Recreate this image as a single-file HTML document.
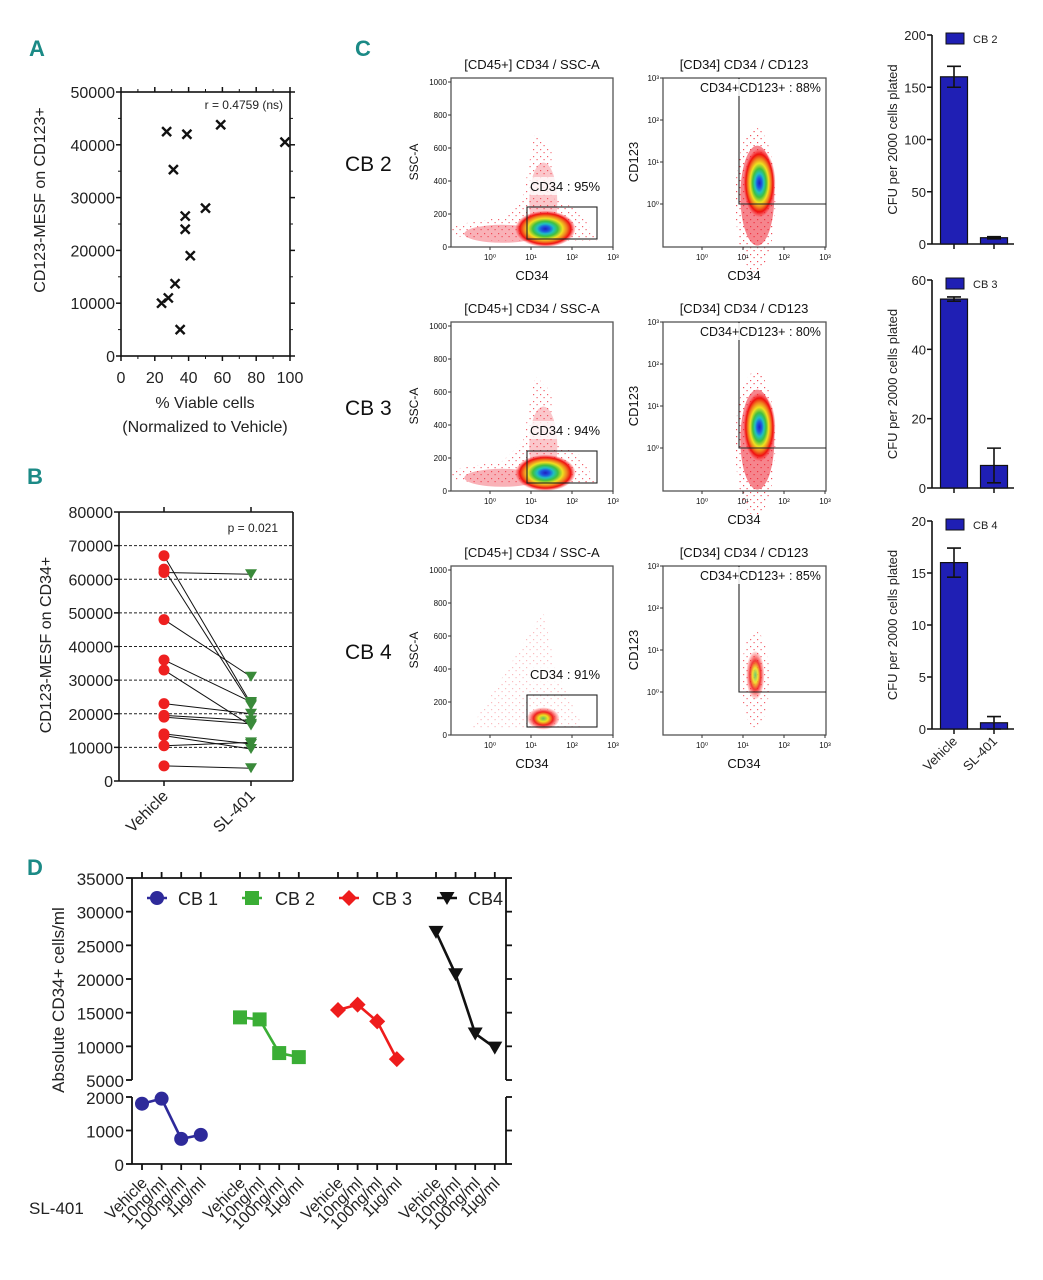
<!DOCTYPE html>
<html><head><meta charset="utf-8">
<style>
html,body{margin:0;padding:0;background:#fff;}
svg{display:block;font-family:"Liberation Sans",sans-serif;}
.lt{fill:#1b8a86;font-weight:bold;font-size:22px;font-family:"Liberation Sans Narrow","Liberation Sans",sans-serif;}
</style></head>
<body>
<svg id="fig" width="1043" height="1280" viewBox="0 0 1043 1280" xmlns="http://www.w3.org/2000/svg">
<defs>
<radialGradient id="dens" cx="50%" cy="50%" r="50%">
<stop offset="0" stop-color="#2020c0"/>
<stop offset="0.15" stop-color="#1e5ae0"/>
<stop offset="0.28" stop-color="#20c0c0"/>
<stop offset="0.42" stop-color="#40c040"/>
<stop offset="0.58" stop-color="#f0e020"/>
<stop offset="0.72" stop-color="#f08020"/>
<stop offset="0.85" stop-color="#f01010"/>
<stop offset="1" stop-color="#ff3030" stop-opacity="0.1"/>
</radialGradient>
<radialGradient id="dens2" cx="50%" cy="50%" r="50%">
<stop offset="0" stop-color="#60c060"/>
<stop offset="0.3" stop-color="#f0e020"/>
<stop offset="0.6" stop-color="#f02020"/>
<stop offset="1" stop-color="#ff3030" stop-opacity="0.1"/>
</radialGradient>
<pattern id="spk" width="7" height="7" patternUnits="userSpaceOnUse">
<rect x="1" y="2" width="1.2" height="1.2" fill="#ee2030"/>
<rect x="4.5" y="5" width="1.2" height="1.2" fill="#ee2030"/>
</pattern>
</defs>
<text class="lt" x="29" y="56">A</text>
<text class="lt" x="27" y="484">B</text>
<text class="lt" x="355" y="56">C</text>
<text class="lt" x="27" y="875">D</text>
<g id="pa"></g>
<g id="pb"></g>
<g id="pc"></g>
<g id="pbar"></g>
<g id="pd"></g>
</svg>
<script>
// ---------- Panel A data ----------
const aViable = [27, 39, 59, 97, 31, 50, 38, 38, 41, 32, 28, 24, 35];
const aMesf = [42500, 42000, 43800, 40500, 35300, 28000, 26500, 24000, 19000, 13700, 11000, 10000, 5000];
const aYTicks = [0, 10000, 20000, 30000, 40000, 50000];
const aXTicks = [0, 20, 40, 60, 80, 100];
// ---------- Panel B data ----------
const bVehicle = [67000, 63000, 62000, 48000, 36000, 33000, 23000, 19500, 19000, 14000, 13500, 10500, 4500];
const bSL401 = [23000, 22500, 61500, 31000, 23500, 16500, 20000, 18000, 17000, 11000, 9500, 11500, 3800];
const bYTicks = [0, 10000, 20000, 30000, 40000, 50000, 60000, 70000, 80000];
// ---------- Panel C bars ----------
const barGroups = ["CB 2", "CB 3", "CB 4"];
const barVehicle = [160, 54.5, 16];
const barSL = [6, 6.5, 0.6];
const barVehErr = [10, 0.6, 1.4];
const barSLErr = [1, 5, 0.6];
const barMax = [200, 60, 20];
const barTicks = [[0, 50, 100, 150, 200], [0, 20, 40, 60], [0, 5, 10, 15, 20]];
// ---------- Panel C flow gates ----------
const flowSamples = ["CB 2", "CB 3", "CB 4"];
const flowCD34Pct = ["95%", "94%", "91%"];
const flowCD123Pct = ["88%", "80%", "85%"];
// ---------- Panel D data ----------
const dSeries = ["CB 1", "CB 2", "CB 3", "CB4"];
const dDoses = ["Vehicle", "10ng/ml", "100ng/ml", "1\u00b5g/ml"];
const dCB1 = [1800, 1950, 750, 870];
const dCB2 = [14300, 14000, 9000, 8400];
const dCB3 = [15400, 16200, 13700, 8100];
const dCB4 = [27000, 20700, 11900, 9800];
const dUpperTicks = [5000, 10000, 15000, 20000, 25000, 30000, 35000];
const dLowerTicks = [0, 1000, 2000];

const NS = "http://www.w3.org/2000/svg";
function mk(parent, tag, attrs, text) {
  const e = document.createElementNS(NS, tag);
  for (const k in attrs) e.setAttribute(k, attrs[k]);
  if (text !== undefined) e.textContent = text;
  parent.appendChild(e);
  return e;
}
function line(p, x1, y1, x2, y2, st, w) { return mk(p, "line", {x1, y1, x2, y2, stroke: st || "#111", "stroke-width": w || 1.5}); }

// ================= Panel A =================
(function () {
  const g = document.getElementById("pa");
  const L = 121, R = 290, T = 92, B = 356;
  const sx = v => L + (v / 100) * (R - L);
  const sy = v => B - (v / 50000) * (B - T);
  const ax = mk(g, "rect", {x: L, y: T, width: R - L, height: B - T, fill: "none", stroke: "#111", "stroke-width": 1.6});
  
  
  aYTicks.forEach(v => {
    line(g, L - 5, sy(v), L, sy(v)); line(g, R, sy(v), R + 5, sy(v));
    const t = mk(g, "text", {x: L - 6, y: sy(v) + 6, "text-anchor": "end", "font-size": 16, fill: "#222"}, v);
    
    
  });
  for (let v = 5000; v < 50000; v += 10000) { line(g, L - 3, sy(v), L, sy(v), "#111", 1); line(g, R, sy(v), R + 3, sy(v), "#111", 1); }
  aXTicks.forEach(v => {
    line(g, sx(v), B, sx(v), B + 5); line(g, sx(v), T - 5, sx(v), T);
    const t = mk(g, "text", {x: sx(v), y: B + 27, "text-anchor": "middle", "font-size": 16, fill: "#222"}, v);
    
    
  });
  for (let v = 10; v < 100; v += 20) { line(g, sx(v), B, sx(v), B + 3, "#111", 1); line(g, sx(v), T - 3, sx(v), T, "#111", 1); }
  aViable.forEach((v, i) => {
    const x = sx(v), y = sy(aMesf[i]);
    const m = mk(g, "path", {d: `M${x-4.5},${y-4.5}L${x+4.5},${y+4.5}M${x-4.5},${y+4.5}L${x+4.5},${y-4.5}`, stroke: "#111", "stroke-width": 2.4});
    
    
  });
  let t = mk(g, "text", {x: 283, y: 109, "text-anchor": "end", "font-size": 12, fill: "#222"}, "r = 0.4759 (ns)");
   
  t = mk(g, "text", {x: 205, y: 408, "text-anchor": "middle", "font-size": 16, fill: "#222"}, "% Viable cells");
   
  t = mk(g, "text", {x: 205, y: 432, "text-anchor": "middle", "font-size": 16, fill: "#222"}, "(Normalized to Vehicle)");
   
  t = mk(g, "text", {x: 0, y: 0, "text-anchor": "middle", "font-size": 16, fill: "#222", transform: "translate(45,200) rotate(-90)"}, "CD123-MESF on CD123+");
   
})();

// ================= Panel B =================
(function () {
  const g = document.getElementById("pb");
  const L = 119, R = 293, T = 512, B = 781;
  const xV = 164, xS = 251;
  const sy = v => B - (v / 80000) * (B - T);
  bYTicks.forEach(v => {
    if (v > 0 && v < 80000 && v >= 10000) mk(g, "line", {x1: L, y1: sy(v), x2: R, y2: sy(v), stroke: "#222", "stroke-width": 1, "stroke-dasharray": "3,2"});
    line(g, L - 5, sy(v), L, sy(v));
    const t = mk(g, "text", {x: L - 6, y: sy(v) + 6, "text-anchor": "end", "font-size": 16, fill: "#222"}, v);
    
    
  });
  line(g, L, T, L, B, "#111", 1.6); line(g, L, B, R, B, "#111", 1.6); line(g, L, T, R, T, "#111", 1.6); line(g, R, T, R, B, "#111", 1.6);
  [xV, xS].forEach(x => { line(g, x, B, x, B + 5); line(g, x, T - 5, x, T); });
  bVehicle.forEach((v, i) => {
    const l = mk(g, "line", {x1: xV, y1: sy(v), x2: xS, y2: sy(bSL401[i]), stroke: "#111", "stroke-width": 1});
     
  });
  bVehicle.forEach(v => {
    const c = mk(g, "circle", {cx: xV, cy: sy(v), r: 5.5, fill: "#ee2020"});
     
  });
  bSL401.forEach(v => {
    const y = sy(v);
    const p = mk(g, "path", {d: `M${xS-6},${y-5}L${xS+6},${y-5}L${xS},${y+5}Z`, fill: "#3a8a3a"});
     
  });
  let t = mk(g, "text", {x: 278, y: 532, "text-anchor": "end", "font-size": 12, fill: "#222"}, "p = 0.021");
   
  [["Vehicle", xV], ["SL-401", xS]].forEach(([s, x]) => {
    const tt = mk(g, "text", {x: 0, y: 0, "text-anchor": "end", "font-size": 16, fill: "#222", transform: `translate(${x+5},${B+16}) rotate(-45)`}, s);
     
  });
  t = mk(g, "text", {x: 0, y: 0, "text-anchor": "middle", "font-size": 16, fill: "#222", transform: "translate(51,645) rotate(-90)"}, "CD123-MESF on CD34+");
   
})();

// ================= Panel C flow =================
(function () {
  const g = document.getElementById("pc");
  const sup = {0: "\u2070", 1: "\u00b9", 2: "\u00b2", 3: "\u00b3"};
  flowSamples.forEach((s, r) => {
    const off = r * 244;
    const T = 78 + off, B = 247 + off;
    const sg = mk(g, "g", {});
    
    
    let t = mk(sg, "text", {x: 345, y: 171 + off, "font-size": 21, fill: "#111"}, s);
     
    // --- plot 1 ---
    const L1 = 451, R1 = 613;
    t = mk(sg, "text", {x: 532, y: 69 + off, "text-anchor": "middle", "font-size": 13, fill: "#111"}, "[CD45+] CD34 / SSC-A");
     
    const syA = v => B - v / 1000 * (B - T - 4);
    const sxl = d => 490 + d * 41;
    if (r < 2) {
      mk(sg, "path", {d: `M${L1},${syA(70)}L${L1},${syA(130)}L${sxl(0.3)},${syA(180)}L${sxl(0.8)},${syA(300)}L${sxl(1.1)},${syA(700)}L${sxl(1.5)},${syA(600)}L${sxl(1.5)},${syA(300)}L${sxl(2.2)},${syA(220)}L${sxl(2.6)},${syA(40)}L${sxl(0)},${syA(40)}Z`, fill: "url(#spk)", opacity: 0.7});
      mk(sg, "ellipse", {cx: sxl(0.3), cy: syA(80), rx: 38, ry: 9, fill: "#ee2030", opacity: 0.35});
      mk(sg, "ellipse", {cx: sxl(1.3), cy: syA(270), rx: 14, ry: 40, fill: "#ee2030", opacity: 0.25});
      mk(sg, "ellipse", {cx: sxl(1.35), cy: syA(110), rx: 30, ry: 18, fill: "url(#dens)"});
    } else {
      mk(sg, "path", {d: `M${sxl(-0.5)},${syA(30)}L${sxl(1.3)},${syA(750)}L${sxl(1.6)},${syA(400)}L${sxl(2.3)},${syA(30)}Z`, fill: "url(#spk)", opacity: 0.3});
      mk(sg, "ellipse", {cx: sxl(1.3), cy: syA(100), rx: 16, ry: 11, fill: "url(#dens2)"});
    }
    const f1 = mk(sg, "rect", {x: L1, y: T, width: R1 - L1, height: B - T, fill: "none", stroke: "#555", "stroke-width": 1.3});
     
    [0, 200, 400, 600, 800, 1000].forEach(v => {
      line(sg, L1 - 3, syA(v), L1, syA(v), "#333", 1);
      mk(sg, "text", {x: L1 - 4, y: syA(v) + 3, "text-anchor": "end", "font-size": 8, fill: "#111"}, v);
    });
    [0, 1, 2, 3].forEach(d => {
      line(sg, sxl(d), B, sxl(d), B + 3, "#333", 1);
      mk(sg, "text", {x: sxl(d), y: B + 13, "text-anchor": "middle", "font-size": 8, fill: "#111"}, "10" + sup[d]);
    });
    t = mk(sg, "text", {x: 532, y: 280 + off, "text-anchor": "middle", "font-size": 13, fill: "#111"}, "CD34");
     
    t = mk(sg, "text", {x: 0, y: 0, "text-anchor": "middle", "font-size": 12, fill: "#111", transform: `translate(418,${162 + off}) rotate(-90)`}, "SSC-A");
     
    const gate1 = mk(sg, "rect", {x: 527, y: 207 + off, width: 70, height: 32, fill: "none", stroke: "#222", "stroke-width": 1.1});
     
    mk(sg, "rect", {x: 528, y: 177 + off, width: 72, height: 18, fill: "#fff", opacity: 0.8});
    t = mk(sg, "text", {x: 530, y: 191 + off, "font-size": 13, fill: "#111"}, "CD34 : " + flowCD34Pct[r]);
     
    // --- plot 2 ---
    const L2 = 663, R2 = 826;
    t = mk(sg, "text", {x: 744, y: 69 + off, "text-anchor": "middle", "font-size": 13, fill: "#111"}, "[CD34] CD34 / CD123");
     
    const syL = d => 204 + off - d * 42;
    const sxr = d => 702 + d * 41;
    if (r < 2) {
      mk(sg, "ellipse", {cx: sxr(1.3), cy: syL(0.1), rx: 20, ry: 72, fill: "url(#spk)", opacity: 0.8});
      mk(sg, "ellipse", {cx: sxr(1.35), cy: syL(0.2), rx: 17, ry: 50, fill: "#ee2030", opacity: 0.55});
      mk(sg, "ellipse", {cx: sxr(1.4), cy: syL(0.5), rx: 16, ry: 34, fill: "url(#dens)"});
    } else {
      mk(sg, "ellipse", {cx: sxr(1.3), cy: syL(0.3), rx: 14, ry: 48, fill: "url(#spk)", opacity: 0.7});
      mk(sg, "ellipse", {cx: sxr(1.3), cy: syL(0.4), rx: 9, ry: 24, fill: "url(#dens2)", opacity: 0.9});
    }
    const f2 = mk(sg, "rect", {x: L2, y: T, width: R2 - L2, height: B - T, fill: "none", stroke: "#555", "stroke-width": 1.3});
     
    [0, 1, 2, 3].forEach(d => {
      line(sg, L2 - 3, syL(d), L2, syL(d), "#333", 1);
      mk(sg, "text", {x: L2 - 4, y: syL(d) + 3, "text-anchor": "end", "font-size": 8, fill: "#111"}, "10" + sup[d]);
      line(sg, sxr(d), B, sxr(d), B + 3, "#333", 1);
      mk(sg, "text", {x: sxr(d), y: B + 13, "text-anchor": "middle", "font-size": 8, fill: "#111"}, "10" + sup[d]);
    });
    const gate2 = mk(sg, "path", {d: `M739,${T}L739,${204 + off}L${R2},${204 + off}`, fill: "none", stroke: "#222", "stroke-width": 1.1});
     
    mk(sg, "rect", {x: 699, y: 79 + off, width: 123, height: 17, fill: "#fff", opacity: 0.85});
    t = mk(sg, "text", {x: 700, y: 92 + off, "font-size": 12.5, fill: "#111"}, "CD34+CD123+ : " + flowCD123Pct[r]);
     
    t = mk(sg, "text", {x: 744, y: 280 + off, "text-anchor": "middle", "font-size": 13, fill: "#111"}, "CD34");
     
    t = mk(sg, "text", {x: 0, y: 0, "text-anchor": "middle", "font-size": 13, fill: "#111", transform: `translate(638,${162 + off}) rotate(-90)`}, "CD123");
     
  });
})();

// ================= Panel C bars =================
(function () {
  const g = document.getElementById("pbar");
  const tops = [35, 280, 521], bots = [244, 488, 729];
  const L = 932, xV = 954, xS = 994, bw = 27;
  barGroups.forEach((name, k) => {
    const T = tops[k], B = bots[k];
    const sy = v => B - v / barMax[k] * (B - T);
    line(g, L, T, L, B, "#111", 1.6); line(g, L, B, 1014, B, "#111", 1.6);
    barTicks[k].forEach(v => {
      line(g, L - 5, sy(v), L, sy(v));
      const t = mk(g, "text", {x: L - 6, y: sy(v) + 5, "text-anchor": "end", "font-size": 13, fill: "#222"}, v);
       
    });
    [xV, xS].forEach(x => line(g, x, B, x, B + 5));
    [[barVehicle[k], barVehErr[k], xV, 'bar-vehicle'], [barSL[k], barSLErr[k], xS, 'bar-sl401']].forEach(([v, e, x, nm]) => {
      const b = mk(g, "rect", {x: x - bw / 2, y: sy(v), width: bw, height: B - sy(v), fill: "#1f1fb4", stroke: "#111", "stroke-width": 1.2});
       
      const eb = mk(g, "path", {d: `M${x},${sy(v + e)}L${x},${sy(Math.max(0, v - e))}M${x - 7},${sy(v + e)}L${x + 7},${sy(v + e)}M${x - 7},${sy(Math.max(0, v - e))}L${x + 7},${sy(Math.max(0, v - e))}`, stroke: "#111", "stroke-width": 1.6, fill: "none"});
       
    });
    const lg = mk(g, "rect", {x: 946, y: T - 2, width: 18, height: 11, fill: "#1f1fb4", stroke: "#111", "stroke-width": 1});
     
    let t = mk(g, "text", {x: 973, y: T + 8, "font-size": 11, fill: "#222"}, name);
     
    t = mk(g, "text", {x: 0, y: 0, "text-anchor": "middle", "font-size": 13, fill: "#222", transform: `translate(897,${(T + B) / 2}) rotate(-90)`}, "CFU per 2000 cells plated");
     
  });
  [["Vehicle", xV], ["SL-401", xS]].forEach(([s, x]) => {
    const t = mk(g, "text", {x: 0, y: 0, "text-anchor": "end", "font-size": 13, fill: "#222", transform: `translate(${x + 4},${742}) rotate(-45)`}, s);
     
  });
})();

// ================= Panel D =================
(function () {
  const g = document.getElementById("pd");
  const L = 132, R = 506, UT = 878, UB = 1080, LT = 1097, LB = 1164;
  const sx = i => 142 + i * 19.6;
  const sy = v => v >= 5000 ? UB - (v - 5000) / 30000 * (UB - UT) : LB - v / 2000 * (LB - LT);
  line(g, L, UT, L, UB, "#111", 1.8); line(g, L, LT, L, LB, "#111", 1.8);
  line(g, R, UT, R, UB, "#111", 1.8); line(g, R, LT, R, LB, "#111", 1.8);
  line(g, L, LB, R, LB, "#111", 1.8); line(g, L, UT, R, UT, "#111", 1.8);
  dUpperTicks.concat(dLowerTicks).forEach(v => {
    line(g, L - 6, sy(v), L, sy(v), "#111", 1.8); line(g, R, sy(v), R + 6, sy(v), "#111", 1.8);
    const t = mk(g, "text", {x: L - 8, y: sy(v) + 7, "text-anchor": "end", "font-size": 17, fill: "#222"}, v);
     
  });
  const series = [dCB1, dCB2, dCB3, dCB4];
  const colors = ["#2e2a9a", "#3aae35", "#ee1c1c", "#111"];
  const shapes = ["circle", "square", "diamond", "tri"];
  function marker(p, shape, x, y, c, nm) {
    let e;
    if (shape === "circle") e = mk(p, "circle", {cx: x, cy: y, r: 7, fill: c});
    else if (shape === "square") e = mk(p, "rect", {x: x - 7, y: y - 7, width: 14, height: 14, fill: c});
    else if (shape === "diamond") e = mk(p, "path", {d: `M${x},${y - 8}L${x + 8},${y}L${x},${y + 8}L${x - 8},${y}Z`, fill: c});
    else e = mk(p, "path", {d: `M${x - 7.5},${y - 6}L${x + 7.5},${y - 6}L${x},${y + 7}Z`, fill: c});
     
  }
  series.forEach((arr, s) => {
    const pts = arr.map((v, j) => [sx(s * 5 + j), sy(v)]);
    const pl = mk(g, "polyline", {points: pts.map(p => p.join(",")).join(" "), fill: "none", stroke: colors[s], "stroke-width": 2.6});
     
    pts.forEach(p => marker(g, shapes[s], p[0], p[1], colors[s], 'point-' + dSeries[s].replace(' ', '').toLowerCase()));
    dDoses.forEach((d, j) => {
      const x = sx(s * 5 + j);
      line(g, x, LB, x, LB + 6, "#111", 1.8); line(g, x, UT - 6, x, UT, "#111", 1.8);
      const t = mk(g, "text", {x: 0, y: 0, "text-anchor": "end", "font-size": 16, fill: "#222", transform: `translate(${x + 6},${LB + 20}) rotate(-45)`}, d);
       
    });
  });
  const lx = [157, 252, 349, 447], tx = [178, 275, 372, 468];
  dSeries.forEach((n, s) => {
    line(g, lx[s] - 10, 898, lx[s] + 10, 898, colors[s], 2.6);
    marker(g, shapes[s], lx[s], 898, colors[s], 'legend-marker');
    const t = mk(g, "text", {x: tx[s], y: 905, "font-size": 18, fill: "#222"}, n);
     
  });
  let t = mk(g, "text", {x: 29, y: 1214, "font-size": 17, fill: "#222"}, "SL-401");
   
  t = mk(g, "text", {x: 0, y: 0, "text-anchor": "middle", "font-size": 17, fill: "#222", transform: "translate(64,1000) rotate(-90)"}, "Absolute CD34+ cells/ml");
   
})();
</script>
</body></html>
